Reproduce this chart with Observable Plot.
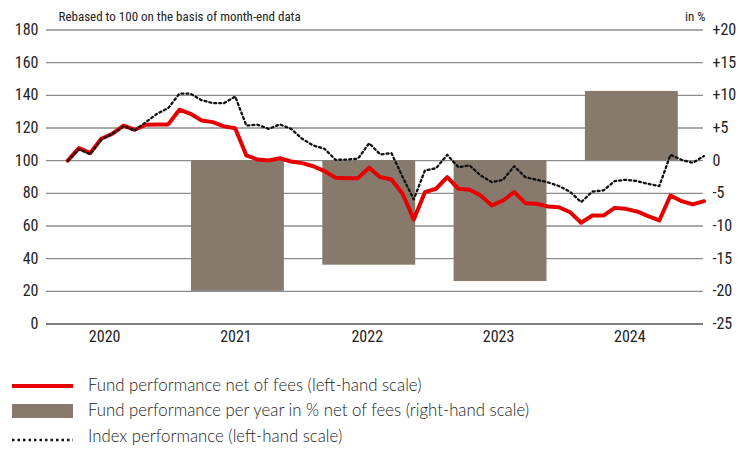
<!DOCTYPE html>
<html>
<head>
<meta charset="utf-8">
<script src="https://cdn.jsdelivr.net/npm/d3@7"></script>
<script src="https://cdn.jsdelivr.net/npm/@observablehq/plot@0.6"></script>
<style>
  html, body { margin: 0; padding: 0; background: #fff; }
  #wrap { position: relative; width: 748px; height: 454px; color: #222; }
  #chart { position: absolute; left: 0; top: 0; }
  .sw { position: absolute; left: 12px; width: 61px; }
  .lt { position: absolute; left: 88px; white-space: nowrap; line-height: 1; font-family: Lato, "Liberation Sans", sans-serif; font-weight: 300; font-size: 16.8px; color: #222; }
</style>
</head>
<body>
<div id="wrap">
  <div id="chart"></div>
  <div id="legend"></div>
</div>
<script>
// ---- data ----
const years = [2020, 2021, 2022, 2023, 2024];
const barYears = [2021, 2022, 2023, 2024];
const barValues = [-20, -16, -18.5, 10.6]; // % per year, right-hand scale
const fundValues = [
  100, 107.7, 104.6, 113.4, 116.5, 121.5, 118.9, 122, 122.1, 122.2,
  131.2, 128.7, 124.6, 123.6, 121, 119.9, 103.2, 100.7, 100.1, 101.5,
  99.5, 98.5, 96.6, 93.6, 89.5, 89.3, 89.3, 95.7, 89.9, 88.5,
  79.7, 64, 80.7, 82.8, 89.9, 82.8, 82.2, 78.7, 72.6, 75.6,
  80.7, 74, 73.6, 72, 71.5, 68.5, 62, 66.4, 66.4, 71.1,
  70.5, 68.9, 66, 63.4, 78.7, 75.2, 73.2, 75.2
];
const indexValues = [
  100, 107, 104, 113, 116.5, 121, 118.5, 123.6, 128.7, 132.2,
  141, 141, 137, 135.2, 135.2, 139.3, 121.5, 122, 119.5, 122.2,
  119.5, 113.4, 109.3, 107.3, 100.5, 100.7, 101.2, 110.7, 103.8, 104.6,
  90, 76.3, 94, 95.4, 103.6, 96, 97.1, 90.9, 86.8, 88.3,
  96.6, 89.9, 88.3, 86.8, 84.5, 81, 74.6, 81.1, 81.8, 87.5,
  88.3, 87.5, 85.8, 84.4, 103.6, 100.5, 98.7, 102.8
];
const leftTicks = [0, 20, 40, 60, 80, 100, 120, 140, 160, 180];
const rightTicks = [-25, -20, -15, -10, -5, 0, 5, 10, 15, 20];
const firstPoint = 2020.204;   // position of first month-end observation (in years)
const pointStep = 0.085;       // one observation step (in years)
const titleText = "Rebased to 100 on the basis of month-end data";
const unitText = "in %";
const legendItems = [
  "Fund performance net of fees (left-hand scale)",
  "Fund performance per year in % net of fees (right-hand scale)",
  "Index performance (left-hand scale)"
];

// right-hand scale (-25..+20) aligned on left-hand scale (0..180): 0 % <-> 100
const toLeft = r => 100 + r * 4;
const fmtRight = r => r > 0 ? "+" + r : String(r);

const series = fundValues.map((v, k) => ({t: firstPoint + k * pointStep, fund: v, index: indexValues[k]}));
const bars = barYears.map((y, i) => ({year: y, v: barValues[i]}));

const RED = "#e60000", BAR = "#877a6d", GRID = "#8c8c8c";
const NARROW = "'Liberation Sans Narrow', 'Roboto Condensed', 'DejaVu Sans Condensed', 'Liberation Sans', sans-serif";

const chart = Plot.plot({
  width: 748, height: 360,
  marginLeft: 46, marginRight: 45, marginTop: 29.5, marginBottom: 36.5,
  x: {domain: [2020.0419, 2025.0457], axis: null},
  y: {domain: [0, 180], axis: null},
  style: {fontFamily: NARROW, fontSize: "16px", color: "#222", background: "white"},
  marks: [
    Plot.ruleY(leftTicks.slice(1), {stroke: GRID, strokeWidth: 1.4}),
    Plot.rect(bars, {x1: d => d.year, x2: d => d.year + 1, y1: toLeft(0), y2: d => toLeft(d.v), insetLeft: 19.2, insetRight: 19.2, fill: BAR}),
    Plot.ruleY([0], {stroke: "#555", strokeWidth: 1.6}),
    Plot.lineY(series, {x: "t", y: "fund", stroke: RED, strokeWidth: 4, strokeLinejoin: "round"}),
    Plot.lineY(series, {x: "t", y: "index", stroke: "#111", strokeWidth: 2.3, strokeDasharray: "2 3"}),
    Plot.axisY({ticks: leftTicks, anchor: "left", tickSize: 0, tickPadding: 8, label: null, fontSize: 16}),
    Plot.axisY({ticks: rightTicks.map(toLeft), anchor: "right", tickSize: 0, tickPadding: 9, label: null, tickFormat: v => fmtRight((v - 100) / 4), fontSize: 16}),
    Plot.axisX({ticks: years.map(y => y + 0.5), tickFormat: v => String(Math.floor(v)), tickSize: 0, tickPadding: 7, label: null, dx: -2, fontSize: 16}),
    Plot.text([titleText], {frameAnchor: "top-left", textAnchor: "start", lineAnchor: "middle", dx: 12, dy: -13.5, fontSize: 13, fill: "#222"}),
    Plot.text([unitText], {frameAnchor: "top-right", textAnchor: "end", lineAnchor: "middle", dx: 2, dy: -13.5, fontSize: 13, fill: "#222"})
  ]
});
document.getElementById("chart").appendChild(chart);

// ---- legend ----
const legend = document.getElementById("legend");
const tops = [386, 411, 437];
legendItems.forEach((label, i) => {
  if (i === 2) {
    const ns = "http://www.w3.org/2000/svg";
    const s = document.createElementNS(ns, "svg");
    s.setAttribute("width", 64); s.setAttribute("height", 6);
    s.style.position = "absolute"; s.style.left = "12px"; s.style.top = (tops[i] + 0) + "px";
    const l = document.createElementNS(ns, "line");
    l.setAttribute("x1", 0); l.setAttribute("x2", 61); l.setAttribute("y1", 3); l.setAttribute("y2", 3);
    l.setAttribute("stroke", "#111"); l.setAttribute("stroke-width", 2.5); l.setAttribute("stroke-dasharray", "2.5 3");
    s.appendChild(l);
    legend.appendChild(s);
  } else {
    const sw = document.createElement("div");
    sw.className = "sw";
    if (i === 0) { sw.style.top = (tops[i] - 2) + "px"; sw.style.height = "4px"; sw.style.background = RED; }
    if (i === 1) { sw.style.top = (tops[i] - 7) + "px"; sw.style.height = "14px"; sw.style.background = BAR; }
    legend.appendChild(sw);
  }
  const t = document.createElement("div");
  t.className = "lt";
  t.style.top = (tops[i] - 9) + "px";
  t.textContent = label;
  legend.appendChild(t);
});
</script>
</body>
</html>
